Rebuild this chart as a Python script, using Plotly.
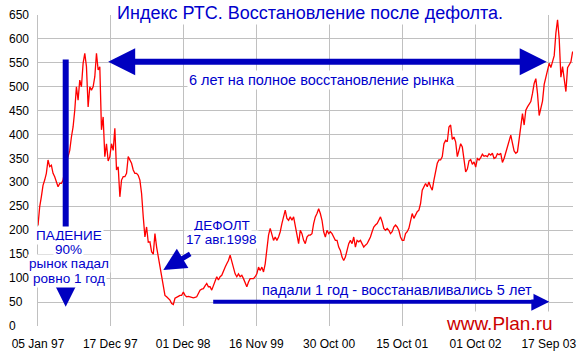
import pandas as pd
import plotly.graph_objects as go

start_date = "1997-01-05"
sample_step = "8D"
rts_index = [
    210, 249, 270, 294, 305, 319, 347, 333, 336, 319, 312, 301, 291, 298, 298,
    305, 330, 345, 354, 367, 395, 416, 451, 500, 472, 514, 500, 549, 570, 542,
    458, 500, 493, 500, 521, 570, 535, 542, 410, 437, 354, 381, 345, 354, 381,
    367, 413, 326, 333, 270, 305, 312, 312, 319, 354, 347, 340, 326, 319, 319,
    315, 305, 277, 228, 186, 207, 175, 176, 155, 150, 193, 165, 144, 130, 109,
    80, 64, 61, 57, 54, 47, 45, 58, 61, 62, 64, 64, 71, 64, 61,
    62, 61, 60, 59, 60, 61, 68, 75, 77, 78, 84, 89, 82, 82, 75,
    85, 95, 103, 96, 103, 106, 116, 123, 130, 137, 148, 134, 123, 109, 103,
    109, 103, 106, 99, 89, 82, 92, 99, 99, 99, 103, 109, 123, 116, 123,
    113, 130, 160, 190, 204, 190, 179, 186, 179, 186, 197, 214, 228, 242, 225,
    221, 228, 221, 228, 207, 186, 172, 200, 193, 179, 172, 186, 190,
    190, 193, 214, 228, 235, 245, 235, 221, 197, 186, 200, 193, 197, 193, 186,
    179, 179, 165, 158, 144, 137, 144, 158, 172, 179, 172, 186, 165, 179, 176,
    179, 172, 165, 169, 172, 179, 186, 197, 207, 211, 214, 221, 228, 218, 204,
    200, 204, 200, 193, 197, 207, 211, 207, 200, 186, 179, 179, 193, 197, 204,
    218, 235, 225, 232, 239, 242, 256, 284, 291, 298, 291, 301, 291, 284, 305,
    326, 340, 347, 347, 354, 381, 388, 385, 416, 420, 390, 395, 385, 354, 367,
    381, 374, 345, 322, 328, 345, 348, 338, 343, 332, 350, 347, 352, 359, 355,
    356, 354, 360, 357, 361, 350, 352, 360, 358, 361, 342, 350, 361, 372, 383,
    399, 382, 366, 361, 364, 390, 420, 444, 420, 451, 458, 465, 469, 486, 507,
    517, 486, 440, 456, 470, 505, 521, 532, 549, 540, 552, 565, 612, 640, 600,
    520, 542, 515, 490, 540, 545, 552, 573, 570,
]
x_end = "2004-01-11"

tick_dates = ["1997-01-05", "1997-12-17", "1998-12-01", "1999-11-16",
              "2000-10-30", "2001-10-15", "2002-10-01", "2003-09-17"]
tick_labels = ["05 Jan 97", "17 Dec 97", "01 Dec 98", "16 Nov 99",
               "30 Oct 00", "15 Oct 01", "01 Oct 02", "17 Sep 03"]
y_ticks = [0, 50, 100, 150, 200, 250, 300, 350, 400, 450, 500, 550, 600, 650]

dates = pd.date_range(start_date, periods=len(rts_index), freq=sample_step)

# ---- layout constants ----
W, H = 584, 357
ML, MR, MT, MB = 38, 11, 15, 31
PW, PH = W - ML - MR, H - MT - MB
BLUE = "#0000CC"
ARROW = "#0000C0"
GRID = "#C0C0C0"
FONT = "Arial, Liberation Sans, sans-serif"


def fx(px):
    return (px - ML) / PW


def fy(py):
    return (H - MB - py) / PH


fig = go.Figure()
fig.add_trace(go.Scatter(x=dates, y=rts_index, mode="lines",
                         line=dict(color="#FF0000", width=1.3),
                         hoverinfo="skip", showlegend=False))

ann = []
# y tick labels, left aligned
for v in y_ticks:
    ann.append(dict(x=0, xref="paper", y=v, yref="y", text=str(v),
                    showarrow=False, xanchor="left", xshift=-31,
                    font=dict(family=FONT, size=12, color="black")))


def arrow(x_head, y_head, x_tail, y_tail, width, size, both=False):
    d = dict(x=fx(x_head), y=fy(y_head), xref="paper", yref="paper",
             ax=x_tail - x_head, ay=y_tail - y_head, axref="pixel", ayref="pixel",
             text="", showarrow=True, arrowhead=2, arrowsize=size,
             arrowwidth=width, arrowcolor=ARROW)
    if both:
        d.update(arrowside="end+start", startarrowhead=2, startarrowsize=size)
    return d


ann.append(arrow(546.7, 61.7, 106.7, 61.7, 6, 0.9, both=True))
ann.append(arrow(65.7, 306.7, 65.7, 58, 6, 0.9))
ann.append(arrow(163.3, 270, 191.7, 253, 5, 0.9))
ann.append(arrow(549.3, 301.7, 211.7, 301.7, 4, 0.9))


def label(text, xc, yc, size, color=BLUE):
    return dict(x=fx(xc), y=fy(yc), xref="paper", yref="paper", text=text,
                showarrow=False, xanchor="center", yanchor="middle",
                bgcolor="white", borderpad=1,
                font=dict(family=FONT, size=size, color=color))


ann.append(label("Индекс РТС. Восстановление после дефолта.", 310, 13.5, 18))
ann.append(label("6 лет на полное восстановление рынка", 321.7, 80, 14.5))
ann.append(label("ПАДЕНИЕ", 68.5, 235, 13.5))
ann.append(label("90%", 68.5, 249.3, 13.5))
ann.append(label("рынок падал", 68.5, 263.3, 13.5))
ann.append(label("ровно 1 год", 68.5, 278.3, 13.5))
ann.append(label("ДЕФОЛТ", 221.7, 225, 13.5))
ann.append(label("17 авг.1998", 221.2, 239.3, 13.5))
ann.append(label("падали 1 год - восстанавливались 5 лет", 396.7, 290, 14.5))
ann.append(label("www.Plan.ru", 499.7, 323.3, 19, color="#CC0000"))

fig.update_layout(
    width=W, height=H,
    margin=dict(l=ML, r=MR, t=MT, b=MB, pad=0, autoexpand=False),
    paper_bgcolor="white", plot_bgcolor="white",
    showlegend=False,
    annotations=ann,
    font=dict(family=FONT, size=12, color="black"),
)
fig.update_xaxes(type="date", range=[start_date, x_end],
                 tickvals=tick_dates, ticktext=tick_labels,
                 showgrid=True, gridcolor=GRID, gridwidth=1,
                 zeroline=False, showline=False, ticks="",
                 ticklabelstandoff=9, automargin=False,
                 tickfont=dict(family=FONT, size=12, color="black"))
fig.update_yaxes(range=[0, 650], tickvals=y_ticks, showticklabels=False,
                 showgrid=True, gridcolor=GRID, gridwidth=1,
                 zeroline=False, showline=True, linecolor=GRID, linewidth=1,
                 ticks="", automargin=False)

fig.write_html("out.html",
               config={"displayModeBar": False, "staticPlot": True},
               post_script="document.body.style.margin='0';"
                           "document.body.style.overflow='hidden';")
